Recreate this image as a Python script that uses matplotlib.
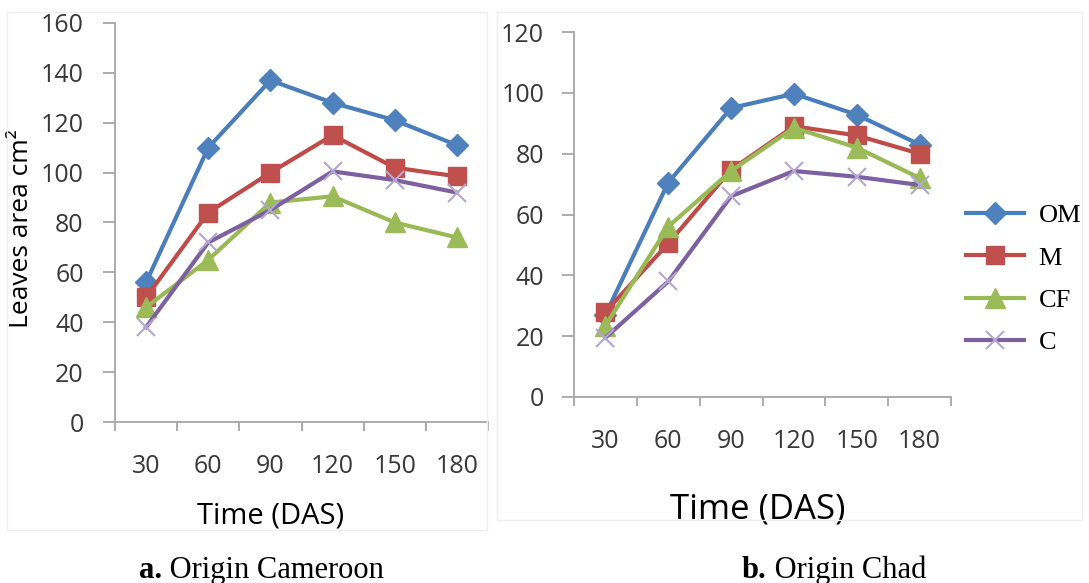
import matplotlib
matplotlib.use("Agg")
import matplotlib.pyplot as plt
import numpy as np
from matplotlib.patches import Rectangle

# ---- data ----
days = ["30", "60", "90", "120", "150", "180"]
series_names = ["OM", "M", "CF", "C"]

cam_OM = [56, 110, 137, 128, 121, 111]
cam_M = [50, 84, 100, 115, 102, 98.5]
cam_CF = [46, 65, 88, 90.5, 80, 74]
cam_C = [38, 72, 85, 100.5, 97, 92]

chad_OM = [27, 70.5, 95, 99.7, 92.8, 83]
chad_M = [28, 50.5, 74.7, 89, 86, 80]
chad_CF = [23.5, 56, 74.3, 88.5, 82, 72]
chad_C = [19.5, 38, 66, 74.3, 72.4, 69.7]

styles = {
    "OM": dict(color="#4A7EBB", marker="D", markersize=11, markerfacecolor="#4F81BD",
               markeredgecolor="#4F81BD"),
    "M": dict(color="#BE4B48", marker="s", markersize=13, markerfacecolor="#C0504D",
              markeredgecolor="#C0504D"),
    "CF": dict(color="#98B954", marker="^", markersize=14, markerfacecolor="#9BBB59",
               markeredgecolor="#9BBB59"),
    "C": dict(color="#7D60A0", marker="x", markersize=13, markeredgecolor="#B3A6D0",
              markeredgewidth=1.5),
}

W, H = 1089, 583
fig = plt.figure(figsize=(W / 100, H / 100), dpi=100)
fig.patch.set_facecolor("white")

# faint panel frames
fig.patches.append(Rectangle((7 / W, 1 - 530 / H), (487 - 7) / W, (530 - 12) / H,
                             transform=fig.transFigure, fill=False, ec="#eeeeee", lw=1))
fig.patches.append(Rectangle((497 / W, 1 - 520 / H), (1082 - 497) / W, (520 - 12) / H,
                             transform=fig.transFigure, fill=False, ec="#eeeeee", lw=1))


def px_axes(x0, x1, ytop, ybot):
    return fig.add_axes([x0 / W, 1 - ybot / H, (x1 - x0) / W, (ybot - ytop) / H])


axL = px_axes(115, 488, 23, 422)
axR = px_axes(574, 951, 32, 397)

tick_font = dict(family="Open Sans", size=18, color="#383838")


def style_axis(ax, ymax, ystep, ypad, xpad):
    x = np.arange(len(days))
    ax.set_xlim(-0.5, len(days) - 0.5)
    ax.set_ylim(0, ymax)
    ax.set_yticks(np.arange(0, ymax + 1, ystep))
    ax.set_xticks(x)
    ax.set_xticklabels(days)
    ax.set_xticks(np.arange(-0.5, len(days), 1), minor=True)
    for s in ["top", "right"]:
        ax.spines[s].set_visible(False)
    for s in ["left", "bottom"]:
        ax.spines[s].set_color("#a6a6a6")
        ax.spines[s].set_linewidth(1.3)
    ax.tick_params(axis="x", which="major", length=0, pad=xpad)
    ax.tick_params(axis="x", which="minor", length=6.5, width=1.3, color="#a6a6a6",
                   direction="out")
    ax.tick_params(axis="y", which="major", length=8.5, width=1.3, color="#a6a6a6",
                   direction="out", pad=ypad)
    for lab in ax.get_xticklabels() + ax.get_yticklabels():
        lab.set_fontfamily(tick_font["family"])
        lab.set_fontsize(tick_font["size"])
        lab.set_color(tick_font["color"])
    ax.set_facecolor("none")


def plot_panel(ax, data):
    x = np.arange(len(days))
    handles = []
    for name, vals in zip(series_names, data):
        h, = ax.plot(x, vals, lw=3, label=name, solid_joinstyle="round", **styles[name])
        handles.append(h)
    return handles


plot_panel(axL, [cam_OM, cam_M, cam_CF, cam_C])
handles = plot_panel(axR, [chad_OM, chad_M, chad_CF, chad_C])

style_axis(axL, 160, 20, 14, 23)
style_axis(axR, 120, 20, 13, 23)

axL.set_ylabel("Leaves area cm²", family="Open Sans", fontsize=19, color="black")
axL.yaxis.set_label_coords(-0.251, 0.484)
axL.yaxis.label.set_va("center")

axL.set_xlabel("Time (DAS)", family="Open Sans", fontsize=21, color="black")
axL.xaxis.set_label_coords((271 - 115) / 373, (422 - 516) / 399)
axL.xaxis.label.set_va("center")

axR.set_xlabel("Time (DAS)", family="Open Sans", fontsize=25, color="black")
axR.xaxis.set_label_coords((758 - 574) / 377, (397 - 510) / 365)
axR.xaxis.label.set_va("center")

leg = fig.legend(handles, series_names, loc="center left",
                 bbox_to_anchor=(966 / W, 1 - 279 / H), frameon=False,
                 prop=dict(family="Liberation Serif", size=19),
                 handlelength=2.2, handletextpad=0.55, labelspacing=0.72,
                 borderpad=0, borderaxespad=0, numpoints=1)

# captions
serif = "Liberation Serif"
for x0, bold, rest in [(139, "a.", " Origin Cameroon"), (742, "b.", " Origin Chad")]:
    t1 = fig.text(x0 / W, 1 - 578 / H, bold, family=serif, fontsize=22,
                  fontweight="bold", ha="left", va="baseline")
    fig.texts.append(matplotlib.text.Annotation(rest, xy=(1, 0), xycoords=t1,
                                                va="bottom", ha="left",
                                                family=serif, fontsize=22))
    fig.texts[-1].set_figure(fig)

fig.savefig("out.png", dpi=100, facecolor="white")
